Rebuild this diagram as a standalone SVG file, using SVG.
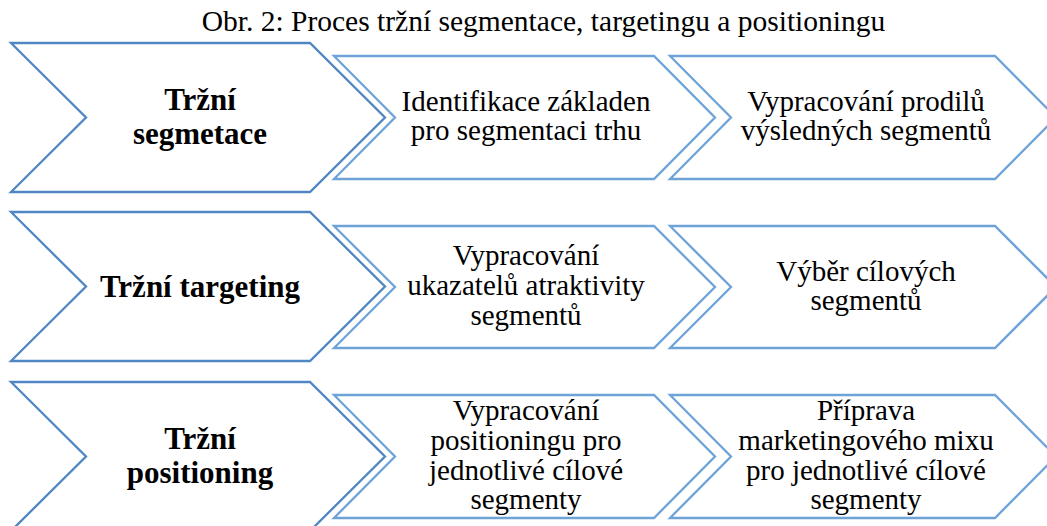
<svg xmlns="http://www.w3.org/2000/svg" width="1047" height="526" viewBox="0 0 1047 526">
<style>
.big{fill:#fff;stroke:#4f86c3;stroke-width:2.3;stroke-linejoin:miter}
.sm{fill:#fff;stroke:#6ea3d8;stroke-width:2.3;stroke-linejoin:miter}
text{font-family:"Liberation Serif","Times New Roman",serif;fill:#000;text-anchor:middle}
.t{font-size:29.5px}
.b{font-size:31px;font-weight:bold}
.s{font-size:29px}
</style>
<rect width="1047" height="526" fill="#fff"/>
<text class="t" x="543.5" y="31">Obr. 2: Proces tržní segmentace, targetingu a positioningu</text>
<g id="connectors"></g>
<g id="row1-big"><polygon class="big" points="11,43 310,43 385,117.5 310,192 11,192 86,117.5"/><text class="b" x="200" y="110">Tržní</text><text class="b" x="200" y="144">segmetace</text></g>
<g id="row1-a"><polygon class="sm" points="334,56 654,56 715,117.5 654,179 334,179 395,117.5"/><text class="s" x="526" y="111">Identifikace základen</text><text class="s" x="526" y="140">pro segmentaci trhu</text></g>
<g id="row1-b"><polygon class="sm" points="670,56 995,56 1056,117.5 995,179 670,179 731,117.5"/><text class="s" x="866" y="111">Vypracování prodilů</text><text class="s" x="866" y="140">výsledných segmentů</text></g>
<g id="row2-big"><polygon class="big" points="11,212 310,212 385,286.5 310,361 11,361 86,286.5"/><text class="b" x="200" y="297">Tržní targeting</text></g>
<g id="row2-a"><polygon class="sm" points="334,226 654,226 715,287 654,348 334,348 395,287"/><text class="s" x="526" y="265">Vypracování</text><text class="s" x="526" y="295">ukazatelů atraktivity</text><text class="s" x="526" y="325">segmentů</text></g>
<g id="row2-b"><polygon class="sm" points="670,226 995,226 1056,287 995,348 670,348 731,287"/><text class="s" x="866" y="281">Výběr cílových</text><text class="s" x="866" y="310">segmentů</text></g>
<g id="row3-big"><polygon class="big" points="11,382 310,382 385,456.5 310,531 11,531 86,456.5"/><text class="b" x="200" y="449">Tržní</text><text class="b" x="200" y="483">positioning</text></g>
<g id="row3-a"><polygon class="sm" points="334,395 654,395 715,456.5 654,518 334,518 395,456.5"/><text class="s" x="526" y="420">Vypracování</text><text class="s" x="526" y="450">positioningu pro</text><text class="s" x="526" y="480">jednotlivé cílové</text><text class="s" x="526" y="509">segmenty</text></g>
<g id="row3-b"><polygon class="sm" points="670,395 995,395 1056,456.5 995,518 670,518 731,456.5"/><text class="s" x="866" y="420">Příprava</text><text class="s" x="866" y="450">marketingového mixu</text><text class="s" x="866" y="480">pro jednotlivé cílové</text><text class="s" x="866" y="509">segmenty</text></g>
</svg>
